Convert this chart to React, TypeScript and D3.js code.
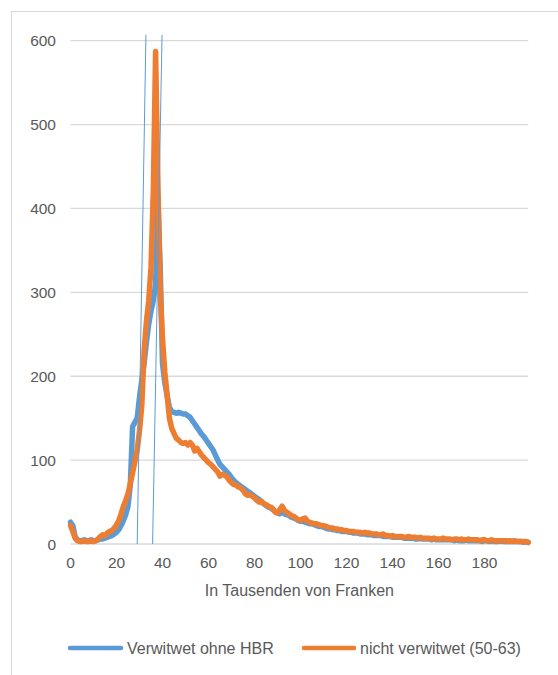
import React from "react";
import * as d3 from "d3";

const blueValues: number[] = [
  26, 22, 9, 5, 4, 4, 5, 4, 4, 5, 4, 4, 5, 6, 6, 7, 8, 9, 10, 12,
  14, 17, 22, 28, 35, 45, 70, 140, 145, 150, 175, 195, 215, 240, 262, 278, 290, 310, 410, 330,
  215, 192, 177, 163, 158, 157, 156, 157, 156, 155, 155, 153, 151, 147, 143, 139, 135, 131, 128, 124,
  120, 116, 112, 106, 100, 95, 92, 89, 86, 83, 79, 76, 73, 71, 69, 67, 65, 63, 61, 59,
  57, 55, 53, 50, 48, 46, 44, 43, 41, 39, 37, 36, 38, 36, 35, 34, 32, 31, 30, 28,
  27, 27, 26, 25, 24, 24, 23, 22, 21, 21, 20, 19, 18, 18, 17, 17, 16, 16, 15, 15,
  15, 14, 14, 13, 13, 13, 12, 12, 12, 11, 11, 11, 10, 10, 10, 10, 9, 9, 9, 9,
  8, 8, 8, 8, 8, 7, 7, 7, 7, 7, 6, 6, 7, 6, 6, 6, 6, 5, 6, 5,
  5, 5, 5, 5, 5, 5, 5, 4, 5, 4, 4, 4, 5, 4, 4, 4, 4, 4, 4, 3,
  4, 4, 3, 4, 3, 3, 3, 4, 3, 3, 3, 3, 3, 3, 3, 3, 3, 2, 3, 2,
];

const orangeValues: number[] = [
  22, 15, 7, 4, 3, 3, 4, 3, 3, 4, 3, 4, 6, 9, 11, 10, 13, 15, 16, 19,
  23, 28, 36, 45, 52, 60, 72, 85, 98, 112, 135, 165, 230, 265, 290, 330, 420, 587, 430, 300,
  245, 205, 178, 150, 138, 132, 126, 124, 121, 120, 121, 118, 121, 118, 111, 114, 110, 106, 103, 100,
  97, 95, 92, 89, 86, 81, 83, 82, 80, 76, 73, 71, 70, 68, 67, 64, 60, 58, 59, 57,
  55, 52, 50, 51, 48, 47, 45, 44, 42, 38, 37, 41, 45, 40, 38, 36, 34, 33, 31, 29,
  28, 30, 31, 27, 26, 25, 24, 24, 23, 22, 22, 21, 20, 19, 19, 18, 18, 17, 17, 16,
  16, 15, 15, 15, 14, 14, 14, 13, 14, 13, 13, 12, 12, 12, 11, 11, 12, 10, 10, 9,
  10, 9, 9, 9, 9, 8, 8, 9, 8, 8, 8, 7, 8, 7, 7, 7, 7, 6, 7, 6,
  6, 6, 7, 6, 6, 6, 5, 6, 6, 5, 6, 5, 5, 6, 5, 5, 5, 5, 4, 5,
  5, 4, 4, 5, 4, 4, 4, 4, 4, 4, 3, 4, 3, 4, 3, 3, 3, 3, 3, 2,
];

const xTickLabels: number[] = [0, 20, 40, 60, 80, 100, 120, 140, 160, 180];
const yTickLabels: number[] = [0, 100, 200, 300, 400, 500, 600];

// annotation lines, in data units (bottom point -> top point)
const markerStartX: number[] = [29.0, 35.7];
const markerEndX: number[] = [32.8, 39.8];
const markerStartY: number[] = [0, 0];
const markerEndY: number[] = [607, 607];

const seriesNames: string[] = ["Verwitwet ohne HBR", "nicht verwitwet (50-63)"];
const xAxisTitle = "In Tausenden von Franken";

const BLUE = "#5B9BD5";
const ORANGE = "#ED7D31";
const TEXT = "#595959";
const GRID = "#D9D9D9";
const FONT = "Arial, 'Liberation Sans', sans-serif";

export default function App() {
  const W = 558;
  const H = 675;
  const left = 70.5;
  const right = 528.2;
  const top = 40.7;
  const bottom = 544;

  const x = d3.scaleLinear().domain([0, blueValues.length - 1]).range([left, right]);
  const y = d3.scaleLinear().domain([0, 600]).range([bottom, top]);

  const line = d3
    .line<number>()
    .x((_, i) => x(i))
    .y((d) => y(d));

  const legendY = 648;

  return (
    <svg
      width={W}
      height={H}
      style={{ position: "absolute", left: 0, top: 0, background: "#fff" }}
      fontFamily={FONT}
    >
      <rect x={0} y={0} width={W} height={H} fill="#fff" />
      <rect x={11.5} y={11.5} width={600} height={700} fill="#fff" stroke={GRID} strokeWidth={1} />
      {yTickLabels.map((v) => (
        <g key={"g" + v}>
          <line x1={left} x2={right} y1={y(v)} y2={y(v)} stroke={GRID} strokeWidth={1.3} />
          <text
            x={56}
            y={y(v)}
            textAnchor="end"
            dominantBaseline="central"
            fontSize={15.5}
            fill={TEXT}
          >
            {v}
          </text>
        </g>
      ))}
      {xTickLabels.map((v) => (
        <text
          key={"x" + v}
          x={x(v)}
          y={562}
          textAnchor="middle"
          dominantBaseline="central"
          fontSize={15.5}
          fill={TEXT}
        >
          {v}
        </text>
      ))}
      <text
        x={(left + right) / 2}
        y={590}
        textAnchor="middle"
        dominantBaseline="central"
        fontSize={16}
        fill={TEXT}
      >
        {xAxisTitle}
      </text>
      <path
        d={line(blueValues) || ""}
        fill="none"
        stroke={BLUE}
        strokeWidth={5.5}
        strokeLinejoin="round"
        strokeLinecap="round"
      />
      <path
        d={line(orangeValues) || ""}
        fill="none"
        stroke={ORANGE}
        strokeWidth={5.5}
        strokeLinejoin="round"
        strokeLinecap="round"
      />
      {markerStartX.map((sx, k) => (
        <line
          key={"m" + k}
          x1={x(sx)}
          y1={y(markerStartY[k])}
          x2={x(markerEndX[k])}
          y2={y(markerEndY[k])}
          stroke={BLUE}
          strokeWidth={1}
        />
      ))}
      <line x1={70} x2={121} y1={legendY} y2={legendY} stroke={BLUE} strokeWidth={4.5} strokeLinecap="round" />
      <text x={127} y={legendY} dominantBaseline="central" fontSize={16} fill={TEXT}>
        {seriesNames[0]}
      </text>
      <line x1={304} x2={354} y1={legendY} y2={legendY} stroke={ORANGE} strokeWidth={4.5} strokeLinecap="round" />
      <text x={360} y={legendY} dominantBaseline="central" fontSize={16} fill={TEXT}>
        {seriesNames[1]}
      </text>
    </svg>
  );
}
